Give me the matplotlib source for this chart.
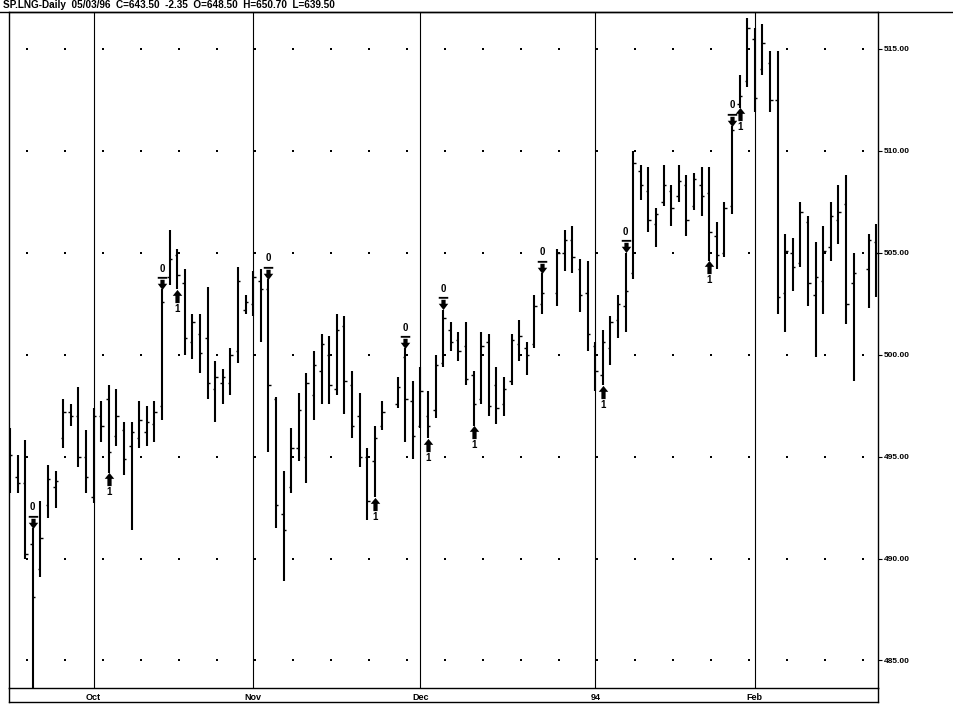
import numpy as np
import pandas as pd
import matplotlib
matplotlib.use("Agg")
import matplotlib.pyplot as plt
from matplotlib.path import Path
from matplotlib.lines import Line2D
from matplotlib.transforms import offset_copy

plt.rcParams['font.family'] = ['Liberation Sans', 'DejaVu Sans']

title_text = "SP.LNG-Daily  05/03/96  C=643.50  -2.35  O=648.50  H=650.70  L=639.50"
axis_start = "1993-09-16"
axis_end = "1994-02-23"

sep_days = [16, 17, 20, 21, 22, 23, 24, 27, 28, 29, 30]
oct_days = [1, 4, 5, 6, 7, 8, 11, 12, 13, 14, 15, 18, 19, 20, 21, 22, 25, 26, 27, 28, 29]
nov_days = [1, 2, 3, 4, 5, 8, 9, 10, 11, 12, 15, 16, 17, 18, 19, 22, 23, 24, 26, 29, 30]
dec_days = [1, 2, 3, 6, 7, 8, 9, 10, 13, 14, 15, 16, 17, 20, 21, 22, 23, 27, 28, 29, 30, 31]
jan_days = [3, 4, 5, 6, 7, 10, 11, 12, 13, 14, 17, 18, 19, 20, 21, 24, 25, 26, 27, 28, 31]
feb_days = [1, 2, 3, 4, 7, 8, 9, 10, 11, 14, 15, 16, 17, 18, 22, 23]

dates = ([f"1993-09-{d:02d}" for d in sep_days] + [f"1993-10-{d:02d}" for d in oct_days] +
         [f"1993-11-{d:02d}" for d in nov_days] + [f"1993-12-{d:02d}" for d in dec_days] +
         [f"1994-01-{d:02d}" for d in jan_days] + [f"1994-02-{d:02d}" for d in feb_days])

highs = [496.4, 495.1, 495.8, 491.5, 492.8, 494.6, 494.3, 497.8, 497.6, 498.4, 496.3,
         497.4, 497.7, 498.5, 498.3, 496.7, 496.7, 497.7, 497.5, 497.7, 503.2, 506.1, 505.2, 504.2, 502.0, 502.0, 503.3, 499.7, 499.3, 500.3, 504.3, 502.9,
         504.1, 504.2, 503.7, 497.9, 494.3, 496.4, 498.1, 499.1, 500.2, 501.0, 500.9, 502.0, 501.9, 499.2, 498.1, 495.4, 496.5, 497.7, 498.9, 500.3, 498.7,
         499.4, 498.2, 500.0, 502.2, 501.6, 501.1, 501.6, 499.2, 501.1, 501.0, 499.4, 498.9, 501.0, 501.7, 500.6, 502.9, 504.0, 505.2, 506.1, 506.3, 504.7, 504.6,
         500.6, 501.2, 501.9, 502.9, 505.0, 510.0, 509.3, 509.2, 507.2, 509.3, 508.3, 509.3, 508.8, 508.9, 509.2, 509.2, 506.5, 507.5, 511.2, 513.7, 516.5,
         516.0, 516.2, 514.9, 514.9, 505.9, 505.7, 507.5, 506.8, 505.5, 506.3, 507.5, 508.3, 508.8, 505.0, 505.9, 506.4]
lows = [493.2, 493.2, 490.0, 483.5, 489.1, 492.0, 492.5, 495.4, 496.5, 494.5, 493.2,
        492.7, 495.7, 494.2, 495.5, 494.1, 491.4, 495.4, 495.5, 495.7, 496.8, 503.4, 503.2, 500.0, 499.8, 499.1, 497.8, 496.7, 497.6, 498.0, 499.6, 502.0,
        501.9, 500.6, 495.2, 491.5, 488.9, 493.2, 494.8, 493.7, 496.8, 497.6, 497.6, 498.0, 497.1, 495.9, 494.5, 491.9, 493.0, 496.3, 497.4, 495.7, 494.9,
        496.4, 495.9, 496.9, 499.4, 500.2, 499.7, 498.5, 496.5, 497.6, 497.0, 496.6, 497.0, 498.5, 499.7, 499.0, 500.3, 502.0, 502.4, 504.1, 504.0, 502.1, 500.2,
        498.2, 498.5, 499.5, 500.8, 501.1, 503.7, 507.6, 506.0, 505.3, 507.3, 506.3, 507.5, 505.8, 507.1, 506.8, 504.6, 504.2, 504.8, 506.9, 512.1, 513.1,
        511.9, 513.7, 511.9, 502.0, 501.1, 503.1, 504.3, 502.4, 499.9, 502.0, 504.6, 505.4, 501.5, 498.7, 502.3, 502.8]
opens = [495.0, 494.0, 493.7, 490.7, 489.5, 492.6, 493.5, 495.9, 497.2, 497.0, 495.0,
         493.0, 497.0, 497.8, 496.0, 496.3, 495.5, 495.9, 496.2, 496.6, 497.5, 503.8, 504.9, 503.5, 500.6, 501.0, 500.8, 498.3, 498.6, 498.6, 500.2, 502.2,
         502.5, 503.6, 503.2, 497.8, 492.2, 493.5, 495.4, 495.0, 498.0, 499.2, 500.0, 498.3, 501.4, 498.5, 497.0, 495.0, 494.8, 496.5, 497.6, 499.9, 497.7,
         496.5, 497.0, 497.3, 499.6, 501.2, 500.7, 500.4, 499.0, 497.8, 500.6, 498.5, 497.6, 498.7, 500.5, 500.3, 500.5, 502.5, 503.0, 505.0, 505.6, 504.2, 503.0,
         500.4, 499.0, 500.3, 501.7, 502.4, 504.0, 509.0, 508.0, 506.4, 507.5, 508.0, 507.8, 508.3, 507.3, 508.3, 507.9, 505.8, 505.0, 507.3, 512.3, 513.4,
         515.5, 514.0, 514.3, 512.5, 503.0, 505.0, 504.5, 506.5, 502.9, 503.6, 505.3, 506.6, 507.4, 503.5, 504.2, 505.5]
closes = [495.1, 493.7, 490.2, 488.1, 491.0, 493.9, 493.8, 497.2, 497.0, 495.0, 494.0,
          497.0, 496.5, 495.2, 497.0, 494.9, 496.2, 496.8, 496.7, 497.2, 502.6, 504.7, 503.9, 500.8, 501.6, 500.1, 498.6, 498.9, 498.9, 500.0, 503.6, 502.6,
          503.8, 503.2, 498.5, 492.6, 491.4, 495.4, 497.3, 498.6, 499.5, 500.5, 498.5, 501.2, 498.7, 496.5, 495.0, 492.8, 495.9, 497.2, 498.4, 497.8, 496.0,
          498.2, 496.5, 499.5, 501.8, 500.6, 500.2, 498.8, 497.6, 500.4, 497.5, 497.4, 498.3, 500.7, 500.9, 500.0, 502.4, 503.0, 505.0, 505.6, 504.8, 502.9, 501.0,
          499.2, 500.6, 501.6, 502.5, 503.1, 509.4, 508.3, 506.6, 506.9, 508.3, 507.2, 508.5, 506.6, 508.6, 507.8, 506.0, 504.9, 507.2, 511.0, 512.7, 516.0,
          512.6, 515.3, 512.5, 502.8, 505.1, 504.3, 507.0, 503.5, 503.8, 505.1, 506.8, 507.0, 502.5, 504.0, 505.6, 505.0]

sell_dates = ["1993-09-21", "1993-10-14", "1993-11-03", "1993-11-29", "1993-12-06", "1993-12-23", "1994-01-07", "1994-01-27"]
buy_dates = ["1993-10-05", "1993-10-18", "1993-11-23", "1993-12-02", "1993-12-10", "1994-01-04", "1994-01-24", "1994-01-28"]

month_starts = ["1993-10-01", "1993-11-01", "1993-12-01", "1994-01-03", "1994-02-01"]
month_labels = ["Oct", "Nov", "Dec", "94", "Feb"]
price_ticks = [485, 490, 495, 500, 505, 510, 515]

df = pd.DataFrame({"date": dates, "high": highs, "low": lows, "open": opens, "close": closes})
df["slot"] = [int(np.busday_count(axis_start, d)) for d in df["date"]]
last_slot = int(np.busday_count(axis_start, axis_end))

W, H = 954, 704
fig = plt.figure(figsize=(W / 100, H / 100), dpi=100)
L, R, T, B = 9, 878, 12, 688
ax = fig.add_axes([L / W, 1 - B / H, (R - L) / W, (B - T) / H])
ax.set_xlim(-0.13, last_slot + 0.2)
ax.set_ylim(483.65, 516.8)

# dotted grid: Mondays x price levels
mondays = pd.bdate_range(axis_start, axis_end)
mondays = [d for d in mondays if d.weekday() == 0]
mon_slots = [int(np.busday_count(axis_start, d.date())) for d in mondays]
gx, gy = np.meshgrid(mon_slots, price_ticks)
ax.scatter(gx.ravel() + 0.2, gy.ravel(), s=1.8, marker='s', color='black', lw=0, zorder=1)

# month lines
m_slots = [int(np.busday_count(axis_start, d)) for d in month_starts]
for s in m_slots:
    ax.axvline(s, color='black', lw=0.8, zorder=1)

# OHLC bars
x = df["slot"].values
ax.vlines(x, df["low"], df["high"], color='black', lw=1.5, zorder=3)
ax.hlines(df["open"], x - 0.32, x, color='black', lw=1.0, zorder=3)
ax.hlines(df["close"], x, x + 0.32, color='black', lw=1.0, zorder=3)

# signal markers
up_arrow = Path([(-0.36, 0.05), (0, 0.5), (0.36, 0.05), (0.16, 0.05), (0.16, -0.5),
                 (-0.16, -0.5), (-0.16, 0.05), (-0.36, 0.05)], closed=True)
bar_part = Path([(-0.36, 0.5), (0.36, 0.5), (0.36, 0.36), (-0.36, 0.36), (-0.36, 0.5)], closed=True)
down_part = Path([(-0.16, 0.28), (0.16, 0.28), (0.16, -0.02), (0.36, -0.02), (0, -0.5),
                  (-0.36, -0.02), (-0.16, -0.02), (-0.16, 0.28)], closed=True)
down_sym = Path.make_compound_path(bar_part, down_part)

sell = df[df["date"].isin(sell_dates)]
buy = df[df["date"].isin(buy_dates)]
t_up = offset_copy(ax.transData, fig=fig, x=0, y=4.6, units='points')
t_up_txt = offset_copy(ax.transData, fig=fig, x=0, y=15, units='points')
t_dn = offset_copy(ax.transData, fig=fig, x=0, y=-4.6, units='points')
t_dn_txt = offset_copy(ax.transData, fig=fig, x=0, y=-14, units='points')
ax.plot(sell["slot"], sell["high"], ls='none', marker=down_sym, ms=9.5, color='black',
        mew=0, transform=t_up, zorder=4)
ax.plot(buy["slot"], buy["low"], ls='none', marker=up_arrow, ms=9.5, color='black',
        mew=0, transform=t_dn, zorder=4)
for s, h in zip(sell["slot"], sell["high"]):
    ax.text(s, h, "0", transform=t_up_txt, ha='center', va='center', fontsize=7,
            fontweight='bold', zorder=4)
for s, l in zip(buy["slot"], buy["low"]):
    ax.text(s, l, "1", transform=t_dn_txt, ha='center', va='center', fontsize=7,
            fontweight='bold', zorder=4)

# axes styling
ax.yaxis.tick_right()
ax.set_yticks(price_ticks)
ax.set_yticklabels([f"{p:.2f}" for p in price_ticks], fontsize=6, fontweight='bold')
ax.tick_params(axis='y', length=3, width=0.8, pad=1, direction='out')
ax.set_xticks(m_slots)
ax.set_xticklabels(month_labels, fontsize=6.5, fontweight='bold')
ax.tick_params(axis='x', length=0, pad=3.5)
for sp in ax.spines.values():
    sp.set_linewidth(1.0)
    sp.set_color('black')

# outer frame lines
fig.add_artist(Line2D([0, 1], [1 - T / H, 1 - T / H], transform=fig.transFigure, color='black', lw=1.0))
fig.add_artist(Line2D([L / W, R / W], [1 - 702 / H, 1 - 702 / H], transform=fig.transFigure, color='black', lw=1.0))
fig.add_artist(Line2D([L / W, L / W], [1 - B / H, 1 - 702 / H], transform=fig.transFigure, color='black', lw=1.0))
fig.add_artist(Line2D([R / W, R / W], [1 - B / H, 1 - 702 / H], transform=fig.transFigure, color='black', lw=1.0))

fig.text(3 / W, 1 - 5.5 / H, title_text, fontsize=7.2, fontweight='bold', ha='left', va='center')

fig.savefig("out.png", dpi=100, facecolor='white')
